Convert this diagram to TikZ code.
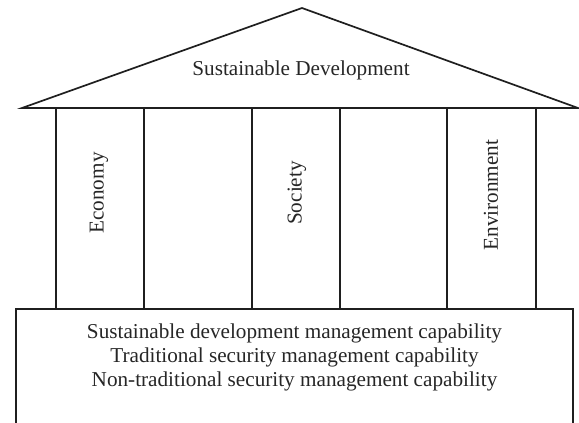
\documentclass[tikz,border=0pt]{standalone}
\usepackage{fontspec}
\setmainfont{Liberation Serif}
\begin{document}
\begin{tikzpicture}[x=1pt,y=-1pt,
  edge/.style={draw=black!88,line width=1.7pt,line join=miter},
  lbl/.style={font=\fontsize{21.2}{24}\selectfont,text=black!85,inner sep=0pt,align=center},
  vlbl/.style={lbl,rotate=90}]
\useasboundingbox (0,0) rectangle (579,423);
% roof
\draw[edge] (22,108) -- (302,8) -- (578,108) -- cycle;
\node[lbl] (roof) at (301,70) {Sustainable Development};
% pillars
\draw[edge] (56,108) rectangle (144,309);
\draw[edge] (252,108) rectangle (340,309);
\draw[edge] (447,108) rectangle (536,309);
\node[vlbl] (eco) at (99,193) {Economy};
\node[vlbl] (soc) at (297,193) {Society};
\node[vlbl] (env) at (491,195) {Environment};
% base
\draw[edge] (16,424) -- (16,309) -- (573,309) -- (573,424);
\node[lbl,anchor=north] (base) at (294.5,324) {Sustainable development management capability\\Traditional security management capability\\Non-traditional security management capability};
\end{tikzpicture}
\end{document}
